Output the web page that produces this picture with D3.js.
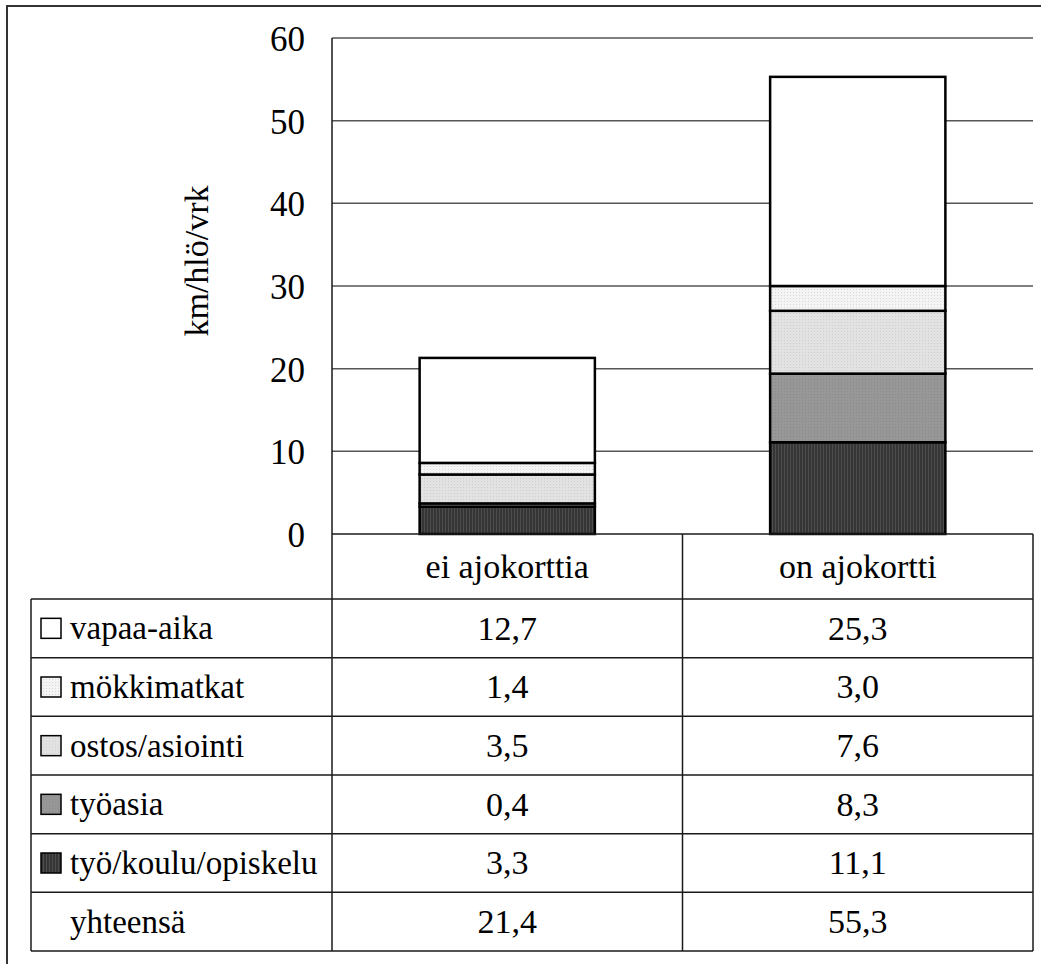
<!DOCTYPE html>
<html>
<head>
<meta charset="utf-8">
<script src="https://cdn.jsdelivr.net/npm/d3@7"></script>
<style>
  html, body { margin: 0; padding: 0; background: #fff; }
  svg { display: block; }
  svg text { fill: #000; }
</style>
</head>
<body>
<svg id="chart" width="1041" height="964"></svg>
<script>
// ---- data ----
const categories = ["ei ajokorttia", "on ajokortti"];
const seriesNames = ["vapaa-aika", "mökkimatkat", "ostos/asiointi", "työasia", "työ/koulu/opiskelu"];
const vapaaAika = [12.7, 25.3];
const mokkimatkat = [1.4, 3.0];
const ostosAsiointi = [3.5, 7.6];
const tyoasia = [0.4, 8.3];
const tyoKouluOpiskelu = [3.3, 11.1];
const totals = [21.4, 55.3];
const totalLabel = "yhteensä";
const yTicks = [0, 10, 20, 30, 40, 50, 60];
const yTitle = "km/hlö/vrk";

const seriesValues = {
  "vapaa-aika": vapaaAika,
  "mökkimatkat": mokkimatkat,
  "ostos/asiointi": ostosAsiointi,
  "työasia": tyoasia,
  "työ/koulu/opiskelu": tyoKouluOpiskelu
};
const fmt = v => v.toFixed(1).replace(".", ",");
const FONT = "'Liberation Serif', Tinos, 'DejaVu Serif', serif";

// ---- layout ----
const svg = d3.select("#chart");
const plotLeft = 332, plotRight = 1033, plotTop = 38, plotBottom = 534;
const tableLeft = 31, tableBottom = 951, headerBottom = 599;
const lineCol = "#1a1a1a";

// patterns
const defs = svg.append("defs");
function dotPattern(id, bg, dot) {
  const p = defs.append("pattern").attr("id", id).attr("patternUnits", "userSpaceOnUse")
    .attr("width", 3).attr("height", 3);
  p.append("rect").attr("width", 3).attr("height", 3).attr("fill", bg);
  p.append("rect").attr("x", 1).attr("y", 1).attr("width", 1).attr("height", 1).attr("fill", dot);
}
dotPattern("pMokki", "#f4f4f4", "#d8d8d8");
dotPattern("pOstos", "#e2e2e2", "#cfcfcf");
dotPattern("pTyoasia", "#979797", "#8a8a8a");
const pv = defs.append("pattern").attr("id", "pTyo").attr("patternUnits", "userSpaceOnUse")
  .attr("width", 3).attr("height", 3);
pv.append("rect").attr("width", 3).attr("height", 3).attr("fill", "#353535");
pv.append("rect").attr("x", 1).attr("width", 1).attr("height", 3).attr("fill", "#4e4e4e");

const fills = {
  "vapaa-aika": "#ffffff",
  "mökkimatkat": "url(#pMokki)",
  "ostos/asiointi": "url(#pOstos)",
  "työasia": "url(#pTyoasia)",
  "työ/koulu/opiskelu": "url(#pTyo)"
};

// scales
const x = d3.scaleBand().domain(categories).range([plotLeft, plotRight])
  .paddingInner(0.5).paddingOuter(0.25);
const xCol = d3.scaleBand().domain(categories).range([plotLeft, plotRight]);
const y = d3.scaleLinear().domain([0, 60]).range([plotBottom, plotTop]);
const rowKeys = seriesNames.concat([totalLabel]);
const rowScale = d3.scaleBand().domain(rowKeys).range([headerBottom, tableBottom]);

// outer frame (cut off at right/bottom)
svg.append("path").attr("d", "M7,964 L7,6 L1041,6")
  .attr("fill", "none").attr("stroke", "#333").attr("stroke-width", 2);

// gridlines
svg.append("g").selectAll("line").data(yTicks.filter(t => t > 0)).join("line")
  .attr("x1", plotLeft).attr("x2", plotRight)
  .attr("y1", d => y(d)).attr("y2", d => y(d))
  .attr("stroke", "#555").attr("stroke-width", 1.5);

// y axis tick labels
const yAxis = d3.axisLeft(y).tickValues(yTicks).tickSize(0).tickPadding(27)
  .tickFormat(d3.format("d"));
const ya = svg.append("g").attr("transform", `translate(${plotLeft},0)`).call(yAxis)
  .attr("font-family", FONT).attr("font-size", 35);
ya.select(".domain").remove();
ya.selectAll("text").attr("fill", "#000").attr("dy", "0.36em");

// y title
svg.append("text").attr("transform", `translate(208,261) rotate(-90)`)
  .attr("text-anchor", "middle").attr("font-family", FONT).attr("font-size", 34).text(yTitle);

// stacked bars
const stackData = categories.map((c, i) => {
  const o = { cat: c };
  seriesNames.forEach(s => o[s] = seriesValues[s][i]);
  return o;
});
const stackKeys = seriesNames.slice().reverse(); // bottom first
const stacked = d3.stack().keys(stackKeys)(stackData);
svg.append("g").selectAll("g").data(stacked).join("g")
  .attr("fill", d => fills[d.key])
  .selectAll("rect").data(d => d).join("rect")
  .attr("x", d => x(d.data.cat))
  .attr("width", x.bandwidth())
  .attr("y", d => y(d[1]))
  .attr("height", d => y(d[0]) - y(d[1]))
  .attr("stroke", "#000").attr("stroke-width", 2.5);

// table lines
const tl = svg.append("g").attr("stroke", lineCol).attr("stroke-width", 1.5);
tl.append("line").attr("x1", plotLeft).attr("x2", plotLeft).attr("y1", plotTop).attr("y2", tableBottom);
tl.append("line").attr("x1", plotLeft).attr("x2", plotRight).attr("y1", plotBottom).attr("y2", plotBottom);
categories.forEach(c => {
  const xr = xCol(c) + xCol.bandwidth();
  tl.append("line").attr("x1", xr).attr("x2", xr).attr("y1", plotBottom).attr("y2", tableBottom);
});
tl.append("line").attr("x1", tableLeft).attr("x2", tableLeft).attr("y1", headerBottom).attr("y2", tableBottom);
rowKeys.forEach(k => {
  const yy = rowScale(k);
  tl.append("line").attr("x1", tableLeft).attr("x2", plotRight).attr("y1", yy).attr("y2", yy);
});
tl.append("line").attr("x1", tableLeft).attr("x2", plotRight).attr("y1", tableBottom).attr("y2", tableBottom);

// header labels
svg.append("g").attr("font-family", FONT).attr("font-size", 34)
  .selectAll("text").data(categories).join("text")
  .attr("x", d => xCol(d) + xCol.bandwidth() / 2)
  .attr("y", (plotBottom + headerBottom) / 2)
  .attr("dy", "0.33em").attr("text-anchor", "middle")
  .text(d => d);

// legend rows
const rows = svg.append("g").attr("font-family", FONT).attr("font-size", 34)
  .selectAll("g").data(rowKeys).join("g")
  .attr("transform", d => `translate(0,${rowScale(d) + rowScale.bandwidth() / 2})`);
rows.filter(d => d !== totalLabel).append("rect")
  .attr("x", 41).attr("y", -10).attr("width", 20).attr("height", 20)
  .attr("fill", d => fills[d]).attr("stroke", "#000").attr("stroke-width", 1.5);
rows.append("text").attr("x", 70).attr("dy", "0.33em").attr("font-size", 33).text(d => d);

// values
rows.each(function(k) {
  const vals = k === totalLabel ? totals : seriesValues[k];
  d3.select(this).selectAll("text.v").data(categories).join("text").attr("class", "v")
    .attr("x", c => xCol(c) + xCol.bandwidth() / 2)
    .attr("dy", "0.33em").attr("text-anchor", "middle")
    .text((c, i) => fmt(vals[i]));
});
</script>
</body>
</html>
